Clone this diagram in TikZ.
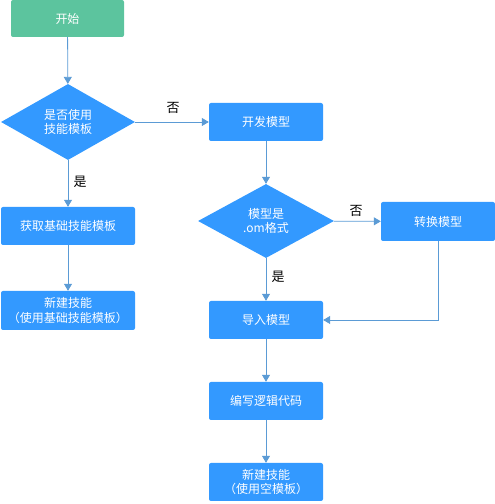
\documentclass[tikz,border=0pt]{standalone}
\usepackage{fontspec}
\setmainfont{Noto Sans CJK SC}
\usetikzlibrary{shapes.geometric,arrows.meta}
\definecolor{boxblue}{HTML}{3399FF}
\definecolor{startgreen}{HTML}{5CC49E}
\definecolor{linecol}{HTML}{5B9BD5}
\begin{document}
\begin{tikzpicture}[x=1pt,y=1pt,
  box/.style={rectangle,rounded corners=2pt,fill=boxblue,text=white,minimum width=114pt,minimum height=38pt,inner sep=0pt,font=\fontsize{12}{14.5}\selectfont,align=center},
  startbox/.style={box,fill=startgreen,minimum width=113pt,minimum height=37pt},
  widebox/.style={box,minimum width=134pt},
  decision/.style={diamond,fill=boxblue,text=white,inner sep=0pt,font=\fontsize{12}{14.5}\selectfont,align=center},
  conn/.style={draw=linecol,line width=0.8pt,-{Triangle[width=8pt,length=7pt]}},
  lbl/.style={font=\fontsize{13}{15}\selectfont,text=black}]
\useasboundingbox (0,0) rectangle (495,504);
\node[startbox] (start) at (67.5,485.5) {开始};
\node[decision,minimum width=134pt,minimum height=76pt] (d1) at (68,382) {是否使用\\技能模板};
\node[widebox] (get) at (68,278) {获取基础技能模板};
\node[widebox,minimum height=39pt] (newl) at (68,193.5) {新建技能\\（使用基础技能模板）};
\node[box] (dev) at (266,382) {开发模型};
\node[decision,minimum width=136pt,minimum height=74pt] (d2) at (266,283) {模型是\\.om格式};
\node[box,minimum height=39pt] (conv) at (438,282.5) {转换模型};
\node[box] (imp) at (266,184) {导入模型};
\node[box] (code) at (266,103) {编写逻辑代码};
\node[box] (newr) at (266,22) {新建技能\\（使用空模板）};
\node[lbl] (no1) at (173,396) {否};
\node[lbl] (yes1) at (80,322) {是};
\node[lbl] (no2) at (356,293) {否};
\node[lbl] (yes2) at (278,227) {是};
\draw[conn] (start) -- (d1);
\draw[conn] (d1) -- (dev);
\draw[conn] (d1) -- (get);
\draw[conn] (get) -- (newl);
\draw[conn] (dev) -- (d2);
\draw[conn] (d2) -- (conv);
\draw[conn] (d2) -- (imp);
\draw[conn] (conv.south) |- (imp.east);
\draw[conn] (imp) -- (code);
\draw[conn] (code) -- (newr);
\end{tikzpicture}
\end{document}
